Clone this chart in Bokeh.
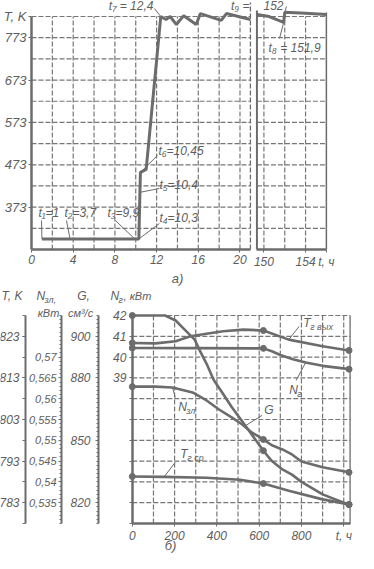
from bokeh.plotting import figure
from bokeh.models import Range1d, FixedTicker, LinearAxis, Label, Grid
from bokeh.layouts import column, row
from bokeh.embed import file_html
from bokeh.resources import INLINE

# ---------------- data: chart a) ----------------
t_heat = [1.0, 3.7, 9.9, 10.3, 10.4, 10.45, 11.0, 12.4, 12.9, 13.3, 13.9, 14.6,
          15.8, 16.2, 18.2, 18.7, 21.0]
T_heat = [298, 298, 298, 298, 408, 455, 462, 823, 816, 823, 804, 825,
          804, 830, 814, 830, 816]
t_late = [149.33, 150.5, 151.9, 152.0, 154.0, 156.0]
T_late = [828, 823, 809, 833, 831, 828]

a_x_ticks = [0, 4, 8, 12, 16, 20]
a_x_grid = [2, 4, 6, 8, 10, 12, 14, 16, 18, 20]
a_x_ticks2 = [150, 154, 156]
a_x_grid2 = [150, 152, 154]
a_y_ticks = [373, 473, 573, 673, 773, 823]
a_y_grid = [323, 373, 423, 473, 523, 573, 623, 673, 723, 773, 823]

ev_names = ["t₁=1", "t₂=3,7", "t₃=9,9", "t₄=10,3", "t₅=10,4",
            "t₆=10,45", "t₇ = 12,4"]
ev_times = [1.0, 3.7, 9.9, 10.3, 10.4, 10.45, 12.4]

# ---------------- data: chart б) ----------------
t_G = [0, 155, 205, 250, 295, 320, 355, 385, 425, 470, 535, 620, 660, 710,
       755, 800, 900, 1025]
G_flow = [910, 910, 907.6, 903, 898.4, 893, 886, 879, 873, 866, 857, 845, 840,
          836, 833.5, 830, 824, 819]
t_Nzl = [0, 110, 190, 285, 345, 410, 470, 520, 565, 620, 660, 710, 755, 800,
         900, 1025]
N_zl = [0.5629, 0.5629, 0.5627, 0.5615, 0.5598, 0.5574, 0.5555, 0.5538, 0.5519,
        0.5502, 0.5488, 0.5478, 0.5466, 0.5449, 0.5435, 0.5423]
t_Tout = [0, 110, 205, 275, 350, 430, 525, 620, 740, 900, 1025]
T_out = [821.4, 821.3, 821.8, 823.0, 823.6, 824.2, 824.6, 824.4, 822.2, 820.6,
         819.6]
t_Ng = [0, 300, 620, 660, 700, 760, 820, 900, 1025]
N_g = [40.44, 40.43, 40.42, 40.28, 40.10, 39.90, 39.74, 39.58, 39.42]
t_Tmean = [0, 150, 350, 510, 620, 740, 900, 1025]
T_mean = [789.3, 789.2, 789.0, 788.5, 787.6, 785.9, 783.8, 782.6]
marker_times = [0, 620, 1025]

b_x_ticks = [0, 200, 400, 600, 800, 1000]
b_x_grid = [100, 200, 300, 400, 500, 600, 700, 800, 900, 1000]
b_y_grid = [783, 788, 793, 798, 803, 808, 813, 818, 823, 828]
T_ticks = [783, 793, 803, 813, 823]
Nzl_ticks = [0.535, 0.54, 0.545, 0.55, 0.555, 0.56, 0.565, 0.57]
Nzl_text = ["0,535", "0,54", "0,545", "0,55", "0,555", "0,56", "0,565", "0,57"]
G_ticks = [820, 850, 880, 900]
Ng_ticks = [39, 40, 41, 42]

# ---------------- style ----------------
FONT = "Liberation Sans"
LINE = "#6c6c6c"
TXT = "#5e5e5e"
GRID = "#767676"


def style_axis(ax, size="12px", lw=2):
    ax.axis_line_color = LINE
    ax.axis_line_width = lw
    ax.major_tick_line_color = LINE
    ax.minor_tick_line_color = LINE
    ax.major_tick_in = 0
    ax.minor_tick_in = 0
    ax.major_tick_out = 3
    ax.minor_tick_out = 2
    ax.major_label_text_font = FONT
    ax.major_label_text_font_style = "italic"
    ax.major_label_text_font_size = size
    ax.major_label_text_color = TXT
    ax.major_label_standoff = 2


def vgrid(p, xs, y0, y1, dash="5 2", width=1.2, color=GRID):
    for x in xs:
        p.segment(x0=[x], y0=[y0], x1=[x], y1=[y1],
                  line_color=color, line_dash=dash, line_width=width)


def hgrid(p, ys, x0, x1, dash="5 2", width=1.2, color=GRID):
    for y in ys:
        p.segment(x0=[x0], y0=[y], x1=[x1], y1=[y],
                  line_color=color, line_dash=dash, line_width=width)


def txt(p, x, y, s, size=12, align="left", baseline="middle", xo=0, yo=0,
        rng="default"):
    p.add_layout(Label(x=x, y=y, text=s, x_offset=xo, y_offset=yo,
                       y_range_name=rng, text_font=FONT,
                       text_font_style="italic", text_font_size=f"{size}px",
                       text_color=TXT, text_align=align,
                       text_baseline=baseline))


def clear_grids(p):
    for r in list(p.center):
        if isinstance(r, Grid):
            r.visible = False


# page-pixel helpers for annotation placement (chart a)
def ax_(xp):
    return (xp - 28) / 10.43


def bx_(xp):
    return 150 + (xp - 260.4) / 10.43


def ay_(yp):
    return 273 + (257 - yp) / 0.4236


Y0A, Y1A = 273, 823

# ================= chart a) left part =================
yr_top = Range1d(Y0A, ay_(8))
pa = figure(frame_width=221, frame_height=249, x_range=Range1d(0, 21.2),
            y_range=yr_top, min_border_left=20, min_border_right=1,
            min_border_top=0, min_border_bottom=39, output_backend="svg",
            toolbar_location=None, outline_line_color=None)
clear_grids(pa)
vgrid(pa, a_x_grid, Y0A, Y1A)
hgrid(pa, a_y_grid, 0, 21)
vgrid(pa, [21], Y0A, ay_(10), dash="5 2", width=1.3, color=LINE)
style_axis(pa.xaxis[0], lw=2.5)
style_axis(pa.yaxis[0], size="13px", lw=2.5)
pa.xaxis.bounds = (0, 21)
pa.xaxis.ticker = FixedTicker(ticks=a_x_ticks)
pa.yaxis.bounds = (Y0A, Y1A)
pa.yaxis.ticker = FixedTicker(ticks=a_y_ticks)
pa.yaxis.major_label_overrides = {823: "T, K"}
ax_label_a = LinearAxis(ticker=FixedTicker(ticks=[14]),
                        major_label_overrides={14: "а)"})
style_axis(ax_label_a, size="13px")
ax_label_a.axis_line_color = None
ax_label_a.major_tick_line_color = None
ax_label_a.major_tick_out = 0
ax_label_a.major_label_standoff = 4
pa.add_layout(ax_label_a, "below")
pa.line(t_heat, T_heat, line_color=LINE, line_width=3)

for name, te, pos, lead in zip(
        ev_names, ev_times,
        [(35, 220, "left"), (61, 220, "left"), (104, 220, "left"),
         (156, 225, "left"), (156, 192, "left"), (155, 158, "left"),
         (150, 13, "right")],
        [(38, 228), (63, 228), (112, 228), (156, 231), (156, 196),
         (154, 163), (151, 16)]):
    txt(pa, ax_(pos[0]), ay_(pos[1]), name, size=12, align=pos[2])
    pa.segment(x0=[ax_(lead[0])], y0=[ay_(lead[1])], x1=[te],
               y1=[T_heat[t_heat.index(te)]], line_color=LINE, line_width=1)
txt(pa, ax_(246), ay_(13), "t₉ =", size=12, align="right")

# ================= chart a) right part =================
pb = figure(frame_width=76, frame_height=249, x_range=Range1d(149.0, 156.3),
            y_range=yr_top, min_border_left=0, min_border_right=30,
            min_border_top=0, min_border_bottom=39, output_backend="svg",
            toolbar_location=None, outline_line_color=None,
            y_axis_location=None)
clear_grids(pb)
vgrid(pb, a_x_grid2, Y0A, Y1A)
hgrid(pb, a_y_grid, t_late[0], t_late[-1])
vgrid(pb, [t_late[0]], Y0A, ay_(18), dash="solid", width=2, color=LINE)
vgrid(pb, [t_late[-1]], Y0A, ay_(20), dash="solid", width=1.5, color=LINE)
style_axis(pb.xaxis[0], lw=2.5)
pb.xaxis.bounds = (t_late[0], t_late[-1])
pb.xaxis.ticker = FixedTicker(ticks=a_x_ticks2)
pb.xaxis.major_label_overrides = {156: "t, ч"}
pb.line(t_late, T_late, line_color=LINE, line_width=3)
txt(pb, bx_(260), ay_(13), "152", size=12)
pb.segment(x0=[bx_(283)], y0=[ay_(14)], x1=[152.0],
           y1=[T_late[t_late.index(152.0)]], line_color=LINE, line_width=1)
txt(pb, bx_(265), ay_(55), "t₈ = 151,9", size=12)
pb.segment(x0=[bx_(276)], y0=[ay_(46)], x1=[151.9],
           y1=[T_late[t_late.index(151.9)]], line_color=LINE, line_width=1)

# ================= chart б) =================
SX = 350 / 1655.5          # px per hour


def tx(xp):
    return (xp - 139.8) / SX


def ty(yp):
    return 828 - (yp - 323) / 4.16


XEND = 353 / SX - 623.5
T0, T1 = 778, 828
X1B = 1030
pc = figure(frame_width=353, frame_height=265,
            x_range=Range1d(-623.5, XEND),
            y_range=Range1d(ty(561), ty(296)), y_axis_location=None,
            min_border_left=0, min_border_right=3, min_border_top=0,
            min_border_bottom=0, output_backend="svg", toolbar_location=None,
            outline_line_color=None)
yr_c = pc.y_range
pc.extra_y_ranges = {
    "Ng": Range1d(32 + (yr_c.start - T0) / 5, 32 + (yr_c.end - T0) / 5),
    "G": Range1d(810 + (yr_c.start - T0) * 2, 810 + (yr_c.end - T0) * 2),
    "Nzl": Range1d(0.530 + (yr_c.start - T0) * 0.001,
                   0.530 + (yr_c.end - T0) * 0.001)}
clear_grids(pc)
vgrid(pc, b_x_grid, T0, T1)
hgrid(pc, b_y_grid, 0, X1B)
vgrid(pc, [X1B], T0, T1, dash="solid", width=1.3, color=LINE)

style_axis(pc.xaxis[0], lw=2.5)
pc.xaxis.fixed_location = T0
pc.xaxis.bounds = (0, X1B)
pc.xaxis.ticker = FixedTicker(ticks=b_x_ticks)
pc.xaxis.major_label_overrides = {1000: "t, ч"}

ax_ng = LinearAxis(y_range_name="Ng",
                   ticker=FixedTicker(ticks=list(range(32, 43))),
                   major_label_overrides={k: "" for k in range(32, 39)})
style_axis(ax_ng, lw=2.5)
ax_ng.major_label_standoff = 3
ax_ng.fixed_location = 0
ax_ng.bounds = (32, 42)

ax_g = LinearAxis(y_range_name="G",
                  ticker=FixedTicker(ticks=G_ticks,
                                     minor_ticks=list(range(810, 911, 2))))
style_axis(ax_g)
ax_g.major_label_standoff = 5
ax_g.fixed_location = tx(106)
ax_g.bounds = (810, 910)

ax_nz = LinearAxis(y_range_name="Nzl",
                   ticker=FixedTicker(ticks=Nzl_ticks,
                                      minor_ticks=[round(0.530 + 0.001 * i, 3)
                                                   for i in range(51)]),
                   major_label_overrides=dict(zip(Nzl_ticks, Nzl_text)))
style_axis(ax_nz, size="11px")
ax_nz.major_label_standoff = 2
ax_nz.fixed_location = tx(69)
ax_nz.bounds = (0.530, 0.580)

ax_t = LinearAxis(ticker=FixedTicker(ticks=T_ticks,
                                     minor_ticks=list(range(778, 829, 5))))
style_axis(ax_t)
ax_t.major_label_standoff = 3
ax_t.minor_tick_out = 3
ax_t.fixed_location = tx(33)
ax_t.bounds = (T0, T1)

for ax in (ax_ng, ax_g, ax_nz, ax_t):
    pc.add_layout(ax, "left")

series = [
    (t_G, G_flow, "G"),
    (t_Nzl, N_zl, "Nzl"),
    (t_Tout, T_out, "default"),
    (t_Ng, N_g, "Ng"),
    (t_Tmean, T_mean, "default"),
]
for ts, vs, rng in series:
    pc.line(ts, vs, y_range_name=rng, line_color=LINE, line_width=2.6)
    mk = [i for i, t in enumerate(ts) if t in marker_times]
    pc.scatter([ts[i] for i in mk], [vs[i] for i in mk], y_range_name=rng,
               marker="circle", size=6, fill_color=LINE, line_color=LINE)


def lead(x0, y0, ts, vs, t1, rng):
    pc.segment(x0=[x0], y0=[y0], x1=[t1], y1=[vs[ts.index(t1)]],
               y_range_name=rng, line_color=LINE, line_width=1)


txt(pc, 808, 826.3, "T", size=12)
txt(pc, 808, 826.3, "г вых", size=9, xo=7, yo=-4)
lead(789, 825.4, t_Tout, T_out, 740, "default")

txt(pc, 742, 38.44, "N", size=12, rng="Ng")
txt(pc, 742, 38.44, "г", size=9, xo=8, yo=-4, rng="Ng")
lead(775, 38.88, t_Ng, N_g, 820, "Ng")

txt(pc, 217, 0.5579, "N", size=12, rng="Nzl")
txt(pc, 217, 0.5579, "зл", size=9, xo=8, yo=-4, rng="Nzl")
lead(203, 0.5603, t_Nzl, N_zl, 190, "Nzl")

txt(pc, 624, 864.4, "G", size=12, rng="G")
lead(614, 862, t_G, G_flow, 535, "G")

txt(pc, 227, 794.6, "T", size=12)
txt(pc, 227, 794.6, "г ср", size=9, xo=7, yo=-4)
lead(203, 792.7, t_Tmean, T_mean, 150, "default")

# axis headers
txt(pc, tx(9), ty(303), "T, K", size=12)
txt(pc, tx(44), ty(303), "N", size=12)
txt(pc, tx(44), ty(303), "зл,", size=9, xo=8, yo=-4)
txt(pc, tx(56), ty(320), "кВт", size=11, align="center")
txt(pc, tx(91), ty(303), "G,", size=12, align="center")
txt(pc, tx(88), ty(320), "см³/с", size=11, align="center")
txt(pc, tx(118), ty(303), "N", size=12)
txt(pc, tx(118), ty(303), "г", size=9, xo=8, yo=-4)
txt(pc, tx(131), ty(303), ", кВт", size=11)
txt(pc, tx(178), ty(553), "б)", size=13, align="center")

layout = column(row(pa, pb), pc)
open("out.html", "w").write(file_html(layout, INLINE))
